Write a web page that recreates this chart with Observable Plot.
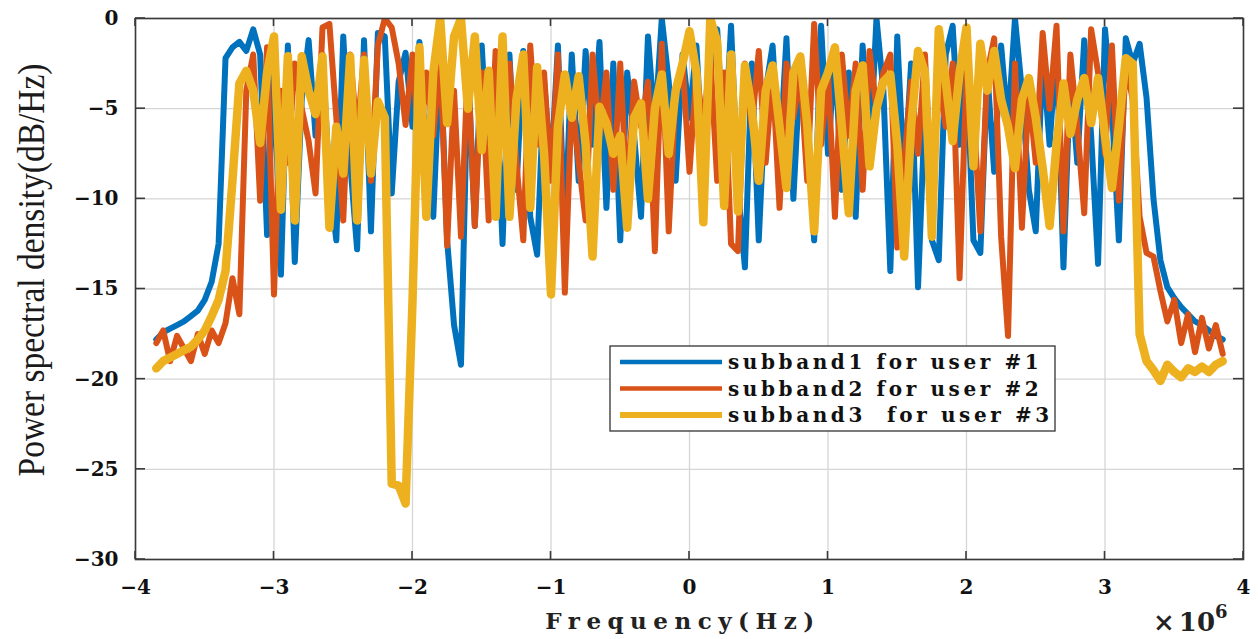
<!DOCTYPE html>
<html><head><meta charset="utf-8">
<script src="https://cdn.jsdelivr.net/npm/d3@7"></script>
<script src="https://cdn.jsdelivr.net/npm/@observablehq/plot@0.6"></script>
<style>
html,body{margin:0;padding:0;background:#fff;}
#chart svg{display:block;}
</style></head><body><div id="chart"></div>
<script>
// Frequency bins (MHz, i.e. ×10^6 Hz)
const fStartMHz = -3.85, fStepMHz = 0.05;

// Power spectral density (dB/Hz)
const subband1 = [
 -17.8,-17.4,-17.2,-17.0,-16.8,-16.5,-16.2,-15.6,-14.6,-12.5,
 -2.2,-1.6,-1.3,-1.8,-0.6,-2.0,-12.0,-2.5,-14.2,-1.5,
 -13.5,-4.5,-1.2,-6.5,-2.0,-9.0,-12.3,-1.0,-8.0,-12.8,
 -1.2,-11.8,-0.8,-1.0,-9.7,-3.5,-1.9,-6.0,-1.3,-8.0,
 -11.0,-1.8,-12.3,-17.0,-19.2,-2.5,-11.5,-1.5,-8.5,-3.0,
 -12.5,-2.0,-9.5,-1.8,-11.0,-13.1,-3.5,-8.5,-1.5,-11.9,
 -2.0,-9.0,-1.8,-7.0,-1.3,-10.5,-2.5,-12.3,-3.0,-6.5,
 -11.0,-1.0,-6.0,0.0,-3.5,-9.0,-2.0,-5.5,-1.5,-8.5,
 -3.0,-0.6,-7.5,-0.4,-9.5,-13.8,-2.5,-12.3,-4.0,-1.5,
 -8.0,-1.1,-10.0,-2.5,-6.0,-12.3,-0.4,-7.5,-2.0,-9.5,
 -3.0,-11.0,-1.5,-8.0,0.0,-4.0,-14.0,-1.0,-9.0,-2.5,
 -14.9,-5.0,-12.3,-13.4,-2.0,-0.4,-7.0,-2.5,-12.3,-13.0,
 -3.0,-8.5,-1.5,-6.0,0.0,-4.0,-9.5,-11.8,-2.0,-7.0,
 -1.5,-13.8,-3.0,-8.0,-1.2,-6.5,-13.6,-0.6,-5.0,-12.3,
 -1.1,-2.5,-1.4,-4.4,-10.0,-13.4,-14.9,-15.5,-16.0,-16.4,
 -16.8,-17.0,-17.3,-17.6,-17.8
];
const subband2 = [
 -18.0,-17.3,-19.0,-17.6,-18.3,-19.0,-17.5,-18.6,-17.3,-18.0,
 -16.9,-14.4,-16.4,-4.0,-2.0,-10.1,-1.6,-15.3,-4.0,-8.0,
 -2.5,-5.0,-6.8,-9.7,-0.5,-0.3,-5.5,-11.2,-2.0,-6.5,
 -2.0,-9.0,-1.5,0.0,-0.5,-2.5,-5.9,-2.0,-7.5,-3.0,
 -6.5,-2.0,-12.6,-4.0,-12.1,-2.5,-11.5,-3.0,-11.2,-1.8,
 -5.0,-2.5,-8.0,-12.3,-1.5,-7.0,-3.0,-9.0,-2.0,-15.2,
 -4.5,-8.0,-11.2,-2.0,-6.5,-3.0,-9.5,-2.5,-10.0,-3.5,
 -6.0,-3.5,-12.9,-1.4,-11.8,-4.0,-2.5,-8.5,-3.0,-6.0,
 -2.0,-9.0,-3.0,-12.5,-12.9,-2.5,-6.0,-1.8,-8.0,-3.0,
 -10.5,-2.5,-5.5,-3.0,-9.0,-0.3,-7.0,-3.0,-11.0,-2.0,
 -6.5,-2.5,-9.5,-1.8,-5.0,-3.0,-2.0,-12.7,-8.0,-3.5,
 -7.5,-2.0,-10.0,-3.5,-6.0,-2.5,-14.4,-3.0,-5.0,-11.8,
 -3.0,-1.1,-12.1,-17.6,-2.5,-11.6,-4.0,-8.0,-0.8,-5.0,
 -0.4,-11.8,-2.0,-6.0,-10.8,-0.6,-3.0,-7.5,-1.5,-10.1,
 -2.5,-4.5,-11.0,-13.0,-13.2,-15.1,-16.8,-15.6,-18.0,-16.4,
 -18.5,-16.6,-18.3,-17.0,-18.6
];
const subband3 = [
 -19.4,-19.0,-18.8,-18.6,-18.4,-18.2,-17.8,-17.3,-16.5,-15.6,
 -14.0,-9.0,-3.6,-2.9,-4.0,-6.9,-3.0,-1.0,-10.6,-2.1,
 -11.2,-2.1,-4.0,-5.3,-2.1,-11.6,-6.0,-8.6,-2.1,-11.2,
 -2.3,-8.6,-4.6,-5.5,-25.8,-25.9,-26.9,-15.7,-1.6,-11.0,
 -3.0,0.0,-5.8,-1.0,0.0,-5.0,-1.0,-7.3,-2.9,-11.0,
 -1.0,-11.0,-4.5,-2.0,-10.5,-2.7,-7.5,-15.3,-6.0,-3.1,
 -5.5,-3.2,-7.0,-13.2,-4.9,-5.8,-7.5,-6.5,-11.6,-5.5,
 -4.7,-10.0,-5.0,-3.1,-7.5,-4.0,-2.5,-0.7,-3.0,-11.3,
 0.0,-1.3,-10.4,-2.0,-10.7,-2.6,-5.0,-9.0,-4.0,-2.6,
 -6.0,-9.4,-3.0,-2.1,-5.9,-11.8,-4.0,-3.0,-1.6,-6.0,
 -10.8,-4.0,-2.6,-8.2,-5.0,-3.5,-3.1,-7.0,-13.2,-6.0,
 -1.8,-3.0,-12.1,-0.6,-3.5,-6.8,-3.0,-0.5,-8.2,-1.4,
 -4.0,-1.8,-4.5,-6.0,-8.3,-4.5,-3.3,-5.5,-8.3,-11.5,
 -7.0,-3.6,-6.4,-4.5,-3.3,-5.8,-3.3,-6.5,-9.4,-6.0,
 -2.2,-2.5,-17.5,-19.0,-19.5,-20.1,-19.2,-19.6,-19.9,-19.4,
 -19.6,-19.3,-19.6,-19.2,-19.0
];

const seriesNames = ["subband1 for user #1", "subband2 for user #2", "subband3  for user #3"];
const seriesColors = ["#0072BD", "#D95319", "#EDB120"];
const seriesWidths = [6, 6, 8.5];
const xTicks = [-4, -3, -2, -1, 0, 1, 2, 3, 4];
const yTicks = [0, -5, -10, -15, -20, -25, -30];
const xLabel = "Frequency(Hz)";
const yLabel = "Power spectral density(dB/Hz)";

const allSeries = [subband1, subband2, subband3];
const rows = allSeries.map(arr => arr.map((v, i) => ({f: +(fStartMHz + i * fStepMHz).toFixed(3), psd: v})));

const W = 1258, H = 639, mL = 135, mR = 15, mT = 18, mB = 80;
const fmt = d => (d < 0 ? "\u2212" + Math.abs(d) : String(d));

const chart = Plot.plot({
  width: W, height: H,
  marginLeft: mL, marginRight: mR, marginTop: mT, marginBottom: mB,
  x: {domain: [-4, 4]},
  y: {domain: [-30, 0]},
  style: {fontFamily: "'DejaVu Serif', serif", background: "#fff", color: "#111"},
  marks: [
    Plot.gridX(xTicks, {stroke: "#d6d6d6", strokeOpacity: 1, strokeWidth: 1.3}),
    Plot.gridY(yTicks, {stroke: "#d6d6d6", strokeOpacity: 1, strokeWidth: 1.3}),
    ...rows.map((r, s) => Plot.line(r, {x: "f", y: "psd", stroke: seriesColors[s], strokeWidth: seriesWidths[s], strokeLinejoin: "round", strokeLinecap: "round", clip: true})),
    Plot.frame({stroke: "#3a3a3a", strokeWidth: 1.6}),
    Plot.axisX(xTicks, {tickSize: 0, tickPadding: 20, tickFormat: fmt, fontSize: 20, fontWeight: "bold", label: null}),
    Plot.axisY(yTicks, {tickSize: 0, tickPadding: 17, tickFormat: fmt, fontSize: 20, fontWeight: "bold", label: null})
  ]
});

document.getElementById("chart").appendChild(chart);

const sx = chart.scale("x"), sy = chart.scale("y");
const svg = d3.select(chart);
const pLeft = mL, pRight = W - mR, pTop = mT, pBottom = H - mB;

// inward ticks on all four sides (MATLAB box style)
const tg = svg.append("g").attr("stroke", "#3a3a3a").attr("stroke-width", 1.6);
xTicks.forEach(t => {
  const px = sx.apply(t);
  tg.append("line").attr("x1", px).attr("x2", px).attr("y1", pBottom).attr("y2", pBottom - 8);
  tg.append("line").attr("x1", px).attr("x2", px).attr("y1", pTop).attr("y2", pTop + 8);
});
yTicks.forEach(t => {
  const py = sy.apply(t);
  tg.append("line").attr("y1", py).attr("y2", py).attr("x1", pLeft).attr("x2", pLeft + 10);
  tg.append("line").attr("y1", py).attr("y2", py).attr("x1", pRight).attr("x2", pRight - 10);
});

// axis titles
svg.append("text")
  .attr("x", (pLeft + pRight) / 2 - 6).attr("y", 629)
  .attr("text-anchor", "middle")
  .attr("font-family", "'DejaVu Serif', serif").attr("font-weight", "bold")
  .attr("font-size", 23).attr("letter-spacing", 6.5).attr("fill", "#222")
  .text(xLabel);

svg.append("text")
  .attr("transform", "translate(44,270) rotate(-90)")
  .attr("text-anchor", "middle")
  .attr("font-family", "'Liberation Serif', serif")
  .attr("font-size", 38).attr("fill", "#1a1a1a")
  .attr("textLength", 413).attr("lengthAdjust", "spacingAndGlyphs")
  .text(yLabel);

const ex = svg.append("text")
  .attr("x", 1153).attr("y", 631)
  .attr("text-anchor", "start")
  .attr("font-family", "'DejaVu Serif', serif").attr("font-weight", "bold")
  .attr("font-size", 26).attr("fill", "#222");
ex.append("tspan").text("×");
ex.append("tspan").attr("dx", 4).text("10");
ex.append("tspan").attr("dy", -13).attr("font-size", 18).text("6");

// legend
const lg = svg.append("g");
lg.append("rect").attr("x", 610).attr("y", 346).attr("width", 445).attr("height", 85)
  .attr("fill", "#fff").attr("stroke", "#333").attr("stroke-width", 1.3);
seriesNames.forEach((name, i) => {
  const yy = 362 + i * 26.5;
  lg.append("line").attr("x1", 620).attr("x2", 722).attr("y1", yy).attr("y2", yy)
    .attr("stroke", seriesColors[i]).attr("stroke-width", i === 2 ? 6 : 4.5);
  lg.append("text").attr("x", 728).attr("y", yy + 7)
    .attr("text-anchor", "start")
    .attr("font-family", "'DejaVu Serif', serif").attr("font-weight", "bold")
    .attr("font-size", 20).attr("letter-spacing", 3.6).attr("fill", "#111")
    .style("white-space", "pre")
    .text(name);
});
</script>
</body></html>
